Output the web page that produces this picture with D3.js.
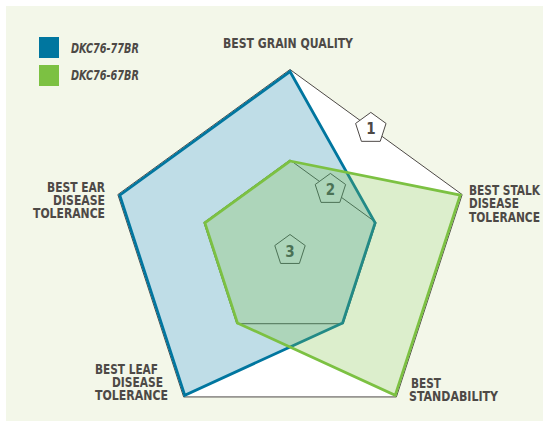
<!DOCTYPE html>
<html><head><meta charset="utf-8">
<script src="https://cdn.jsdelivr.net/npm/d3@7"></script>
<style>
html,body{margin:0;padding:0;background:#fff;}
text{font-family:"DejaVu Sans Condensed","Liberation Sans Narrow","Arial Narrow",sans-serif;font-weight:bold;fill:#4d4946;}
</style></head>
<body>
<svg id="c" width="543" height="421"></svg>
<script>
const axisLabels = [
  ["BEST GRAIN QUALITY"],
  ["BEST STALK","DISEASE","TOLERANCE"],
  ["BEST","STANDABILITY"],
  ["BEST LEAF","DISEASE","TOLERANCE"],
  ["BEST EAR","DISEASE","TOLERANCE"]
];
const seriesNames = ["DKC76-77BR","DKC76-67BR"];
const dkc7677 = [1,2,2,1,1];
const dkc7667 = [2,1,1,2,2];
const rankLevels = [1,2,3];
const gridLevels = [1,2];
const colors = ["#00769f","#7cc142"];

// label layout: [x, width, baseline] per line
const labelLayout = [
  [[223,130,48]],
  [[469,71,195],[469,50,208],[469,71,222]],
  [[411,30,388],[409,89,401]],
  [[95,63,374],[112,51,387],[95,73,400]],
  [[47,58,192],[53,52,205],[33,72,218]]
];

const svg = d3.select("#c");
svg.append("rect").attr("x",6).attr("y",6).attr("width",537).attr("height",415).attr("fill","#f3f7e9");

const cx = 290, cy = 250.5, R = 181;
const rScale = d3.scaleLinear().domain([3,1]).range([0,R]);
const rData = d3.scaleLinear().domain([3,1]).range([0,R-2]);
const angle = d3.scaleLinear().domain([0,5]).range([-Math.PI/2, -Math.PI/2 + 2*Math.PI]);
const g = svg.append("g").attr("transform",`translate(${cx},${cy})`);

function pentPts(vals, sc){
  return vals.map((v,i)=>[sc(v)*Math.cos(angle(i)), sc(v)*Math.sin(angle(i))]);
}
const line = d3.line().curve(d3.curveLinearClosed);

// grid
gridLevels.forEach(l=>{
  g.append("path").attr("d", line(pentPts([l,l,l,l,l], rScale)))
   .attr("fill", l===1 ? "#ffffff" : "none")
   .attr("stroke","#4d4946").attr("stroke-width",1);
});

// rank badges
const badgeAng = -56.5*Math.PI/180;
const bR = 16;
const badge = d3.range(5).map(i=>{const a=-Math.PI/2+i*2*Math.PI/5;return [bR*Math.cos(a),bR*Math.sin(a)];});
rankLevels.forEach(l=>{
  const d = rScale(l)*Math.cos(Math.PI/5);
  const bx = d*Math.cos(badgeAng), by = d*Math.sin(badgeAng);
  const bg = g.append("g").attr("transform",`translate(${bx},${by})`);
  bg.append("path").attr("d", line(badge)).attr("fill","#ffffff").attr("stroke","#4d4946").attr("stroke-width",1);
  bg.append("text").attr("y",6).attr("text-anchor","middle").attr("font-size",15).text(String(l));
});

// series
[[dkc7677,0],[dkc7667,1]].forEach(([vals,k])=>{
  g.append("path").attr("d", line(pentPts(vals, rData)))
   .attr("fill", colors[k]).attr("fill-opacity", k===0?0.25:0.27)
   .attr("stroke", colors[k]).attr("stroke-width",2.8).attr("stroke-linejoin","miter");
});

// axis labels
axisLabels.forEach((lines,i)=>{
  lines.forEach((s,j)=>{
    const [x,w,y] = labelLayout[i][j];
    svg.append("text").attr("x",x).attr("y",y).attr("font-size",14)
      .attr("textLength",w).attr("lengthAdjust","spacingAndGlyphs").text(s);
  });
});

// legend
seriesNames.forEach((n,i)=>{
  svg.append("rect").attr("x",39).attr("y",37+i*28).attr("width",20).attr("height",21).attr("fill",colors[i]);
  svg.append("text").attr("x",71).attr("y",53+i*27).attr("font-size",13.5).attr("font-style","italic")
    .attr("textLength",68).attr("lengthAdjust","spacingAndGlyphs").text(n);
});
</script>
</body></html>
